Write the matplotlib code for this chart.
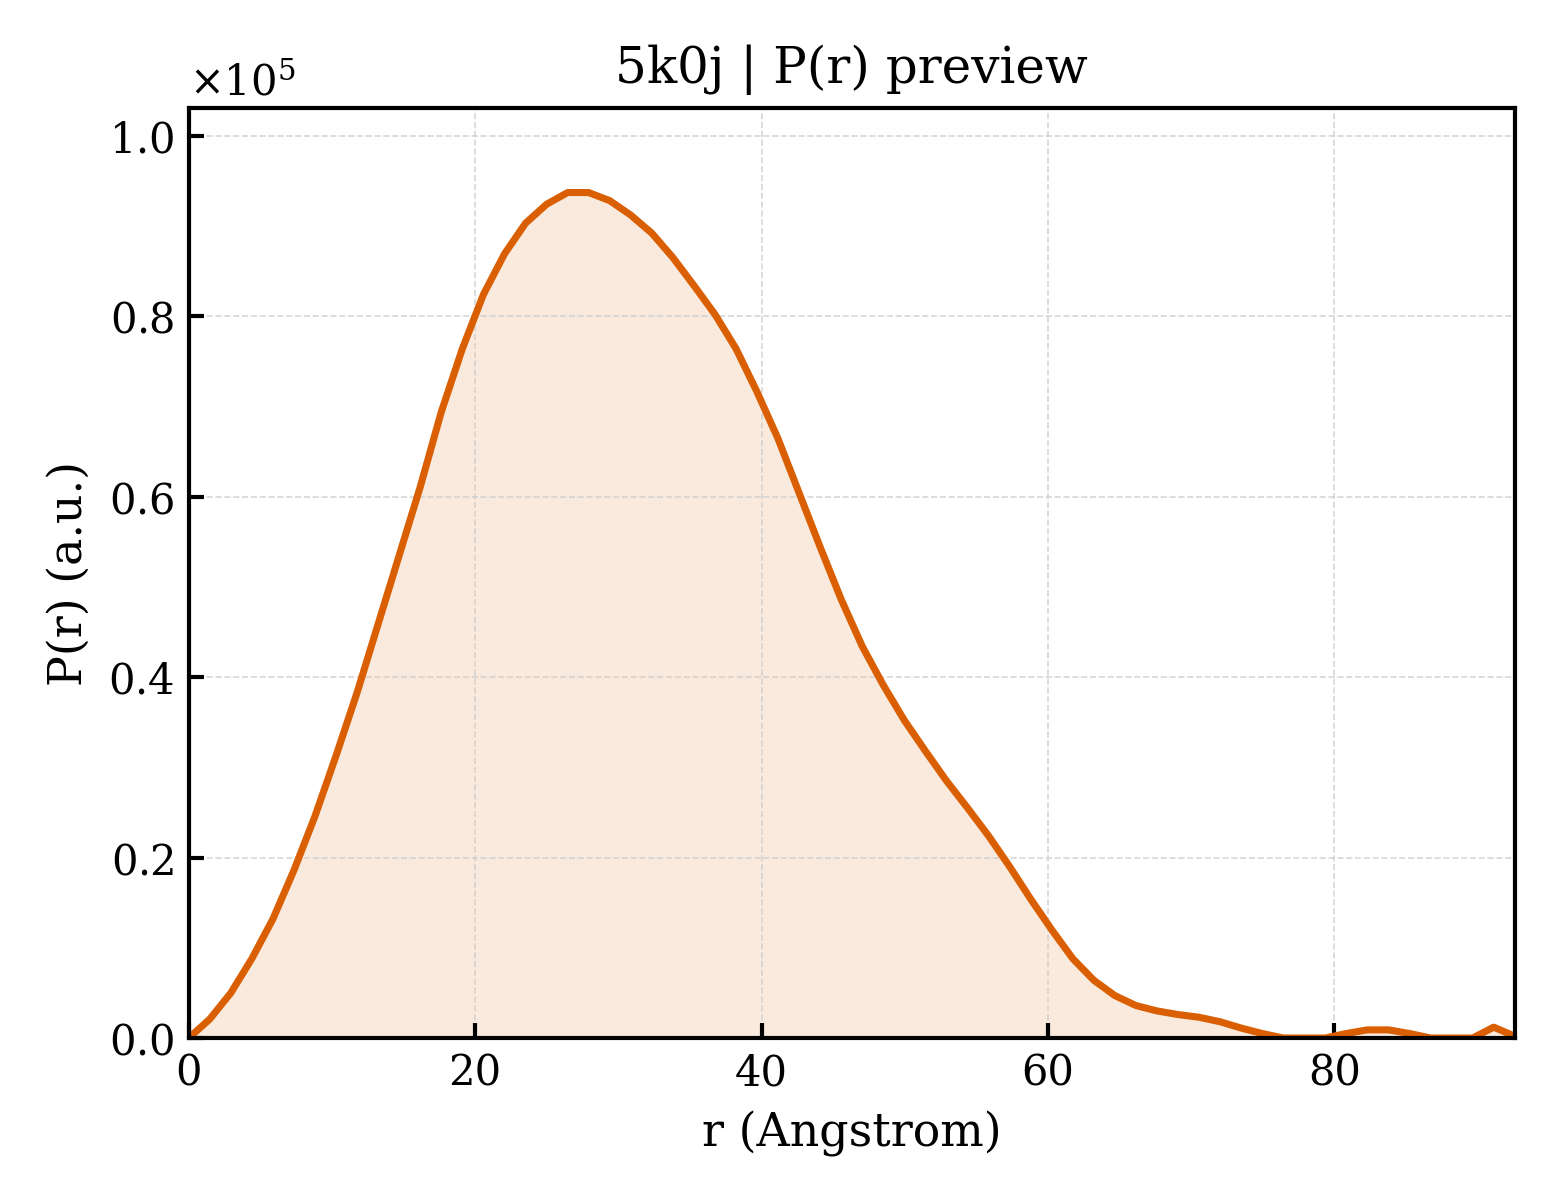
import numpy as np
import matplotlib
matplotlib.use("Agg")
import matplotlib.pyplot as plt

plt.rcParams["font.family"] = "DejaVu Serif"
plt.rcParams["mathtext.fontset"] = "dejavuserif"

d_max = 92.6
n_points = 64
p_scaled = [
    0.000, 0.021, 0.050, 0.088, 0.132, 0.186, 0.246, 0.313, 0.383, 0.459,
    0.535, 0.611, 0.694, 0.764, 0.824, 0.869, 0.903, 0.924, 0.937, 0.937,
    0.928, 0.912, 0.892, 0.865, 0.834, 0.802, 0.764, 0.716, 0.664, 0.604,
    0.544, 0.486, 0.434, 0.391, 0.352, 0.318, 0.285, 0.255, 0.224, 0.190,
    0.154, 0.120, 0.088, 0.064, 0.047, 0.036, 0.030, 0.026, 0.023, 0.018,
    0.011, 0.005, 0.000, 0.000, 0.000, 0.005, 0.009, 0.009, 0.005, 0.000,
    0.000, 0.000, 0.012, 0.002,
]

r = np.linspace(0, d_max, n_points)
pr = np.array(p_scaled) * 1e5

color = "#D95F02"

fig = plt.figure(figsize=(5.2, 4.0), dpi=300)
ax = fig.add_axes([0.121, 0.135, 0.850, 0.775])

ax.plot(r, pr, color=color, lw=1.7)
ax.fill_between(r, pr, 0, color=color, alpha=0.13, lw=0)

ax.set_xlim(0, r.max())
ax.set_ylim(0, pr.max() * 1.1)
ax.set_xlabel("r (Angstrom)", fontsize=11)
ax.set_ylabel("P(r) (a.u.)", fontsize=11)
ax.set_title("5k0j | P(r) preview", fontsize=12)

ax.ticklabel_format(axis="y", style="sci", scilimits=(0, 0), useMathText=True)
ax.tick_params(direction="in", length=3.5, width=1.0, labelsize=10)
ax.yaxis.get_offset_text().set_fontsize(10)
for s in ax.spines.values():
    s.set_linewidth(1.0)
ax.grid(True, ls="--", lw=0.4, color="#cccccc", alpha=0.8)

fig.savefig("out.png", dpi=300)
